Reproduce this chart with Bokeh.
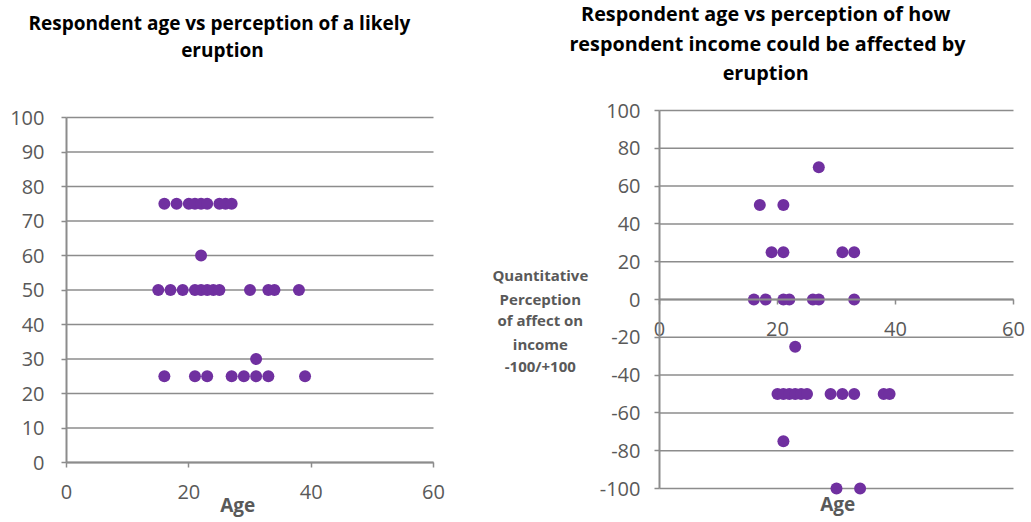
from bokeh.plotting import figure
from bokeh.layouts import row
from bokeh.models import Range1d, FixedTicker, PrintfTickFormatter, Label
from bokeh.embed import file_html
from bokeh.resources import INLINE

# ---- data ----
age_likely = [16, 18, 20, 21, 22, 23, 25, 26, 27,
              22,
              15, 17, 19, 21, 22, 23, 24, 25, 30, 33, 34, 38,
              31,
              16, 21, 23, 27, 29, 31, 33, 39]
perception_likely = [75, 75, 75, 75, 75, 75, 75, 75, 75,
                     60,
                     50, 50, 50, 50, 50, 50, 50, 50, 50, 50, 50, 50,
                     30,
                     25, 25, 25, 25, 25, 25, 25, 25]

age_income = [27,
              17, 21,
              19, 21, 31, 33,
              16, 18, 21, 22, 26, 27, 33,
              23,
              20, 21, 22, 23, 24, 25, 29, 31, 33, 38, 39,
              21,
              30, 34]
income_effect = [70,
                 50, 50,
                 25, 25, 25, 25,
                 0, 0, 0, 0, 0, 0, 0,
                 -25,
                 -50, -50, -50, -50, -50, -50, -50, -50, -50, -50, -50,
                 -75,
                 -100, -100]

x_ticks = [0, 20, 40, 60]
y_ticks_left = [0, 10, 20, 30, 40, 50, 60, 70, 80, 90, 100]
y_ticks_right = [-100, -80, -60, -40, -20, 0, 20, 40, 60, 80, 100]

title_left = ["Respondent age vs perception of a likely", "eruption"]
title_right = ["Respondent age vs perception of how",
               "respondent income could be affected by", "eruption"]
ylabel_right = ["Quantitative", "Perception", "of affect on", "income", "-100/+100"]
xlabel = "Age"

PURPLE = "#7030A0"
GRID = "#8c8c8c"
TXT = "#595959"
FONT = "Open Sans"


def style(p, xt, yt, y_standoff):
    p.outline_line_color = None
    p.background_fill_color = "white"
    p.border_fill_color = "white"
    p.grid.grid_line_color = None
    try:
        p.frame_align = False
    except Exception:
        pass
    # axes cross at the data origin inside the (full-canvas) plot area
    p.xaxis.fixed_location = 0
    p.yaxis.fixed_location = 0
    p.xaxis.bounds = (xt[0], xt[-1])
    p.yaxis.bounds = (yt[0], yt[-1])
    p.xaxis.ticker = FixedTicker(ticks=xt)
    p.yaxis.ticker = FixedTicker(ticks=yt)
    p.xaxis.major_label_standoff = 17
    p.yaxis.major_label_standoff = y_standoff
    for ax in p.axis:
        ax.axis_line_color = GRID
        ax.axis_line_width = 2
        ax.major_tick_line_color = GRID
        ax.major_tick_line_width = 1.5
        ax.major_tick_in = 0
        ax.major_tick_out = 5
        ax.minor_tick_line_color = None
        ax.major_label_text_font = FONT
        ax.major_label_text_font_size = "20px"
        ax.major_label_text_color = TXT
        ax.formatter = PrintfTickFormatter(format="%d")
    # horizontal gridlines spanning the x extent only
    n = len(yt)
    p.segment(x0=[xt[0]] * n, y0=yt, x1=[xt[-1]] * n, y1=yt,
              line_color=GRID, line_width=1.5)


def text(p, x, y, s, size, color, baseline="alphabetic"):
    p.add_layout(Label(x=x, y=y, text=s, text_align="center", text_baseline=baseline,
                       text_font=FONT, text_font_size=size, text_font_style="bold",
                       text_color=color))


# ---- left chart (plot area = whole canvas; 6.117 px per year, 3.45 px per unit) ----
p1 = figure(width=450, height=522, output_backend="svg", toolbar_location=None,
            x_range=Range1d(-10.790, 62.779), y_range=Range1d(-17.391, 133.913),
            min_border_left=0, min_border_right=0, min_border_top=0, min_border_bottom=0)
style(p1, x_ticks, y_ticks_left, 17)
p1.scatter(age_likely, perception_likely, size=12, fill_color=PURPLE, line_color=None)
text(p1, 25.0, 127.4, title_left[0], "19px", "black")
text(p1, 25.5, 119.5, title_left[1], "19px", "black")
text(p1, 28.0, -12.2, xlabel, "19px", TXT)

# ---- right chart (5.9 px per year, 1.89 px per unit) ----
p2 = figure(width=581, height=522, output_backend="svg", toolbar_location=None,
            x_range=Range1d(-35.424, 63.051), y_range=Range1d(-117.989, 158.201),
            min_border_left=0, min_border_right=0, min_border_top=0, min_border_bottom=0)
style(p2, x_ticks, y_ticks_right, 14)
p2.scatter(age_income, income_effect, size=12, fill_color=PURPLE, line_color=None)
for s, xx, yy in zip(title_right, [18.0, 18.3, 18.0], [151.4, 135.2, 120.1]):
    text(p2, xx, yy, s, "19.8px", "black")
for s, yy in zip(ylabel_right, [12.7, 0.5, -11.1, -23.3, -35.4]):
    text(p2, -20.2, yy, s, "15px", TXT, baseline="middle")
text(p2, 30.2, -108.4, xlabel, "19px", TXT)

layout = row(p1, p2)
open("out.html", "w").write(file_html(layout, INLINE))
